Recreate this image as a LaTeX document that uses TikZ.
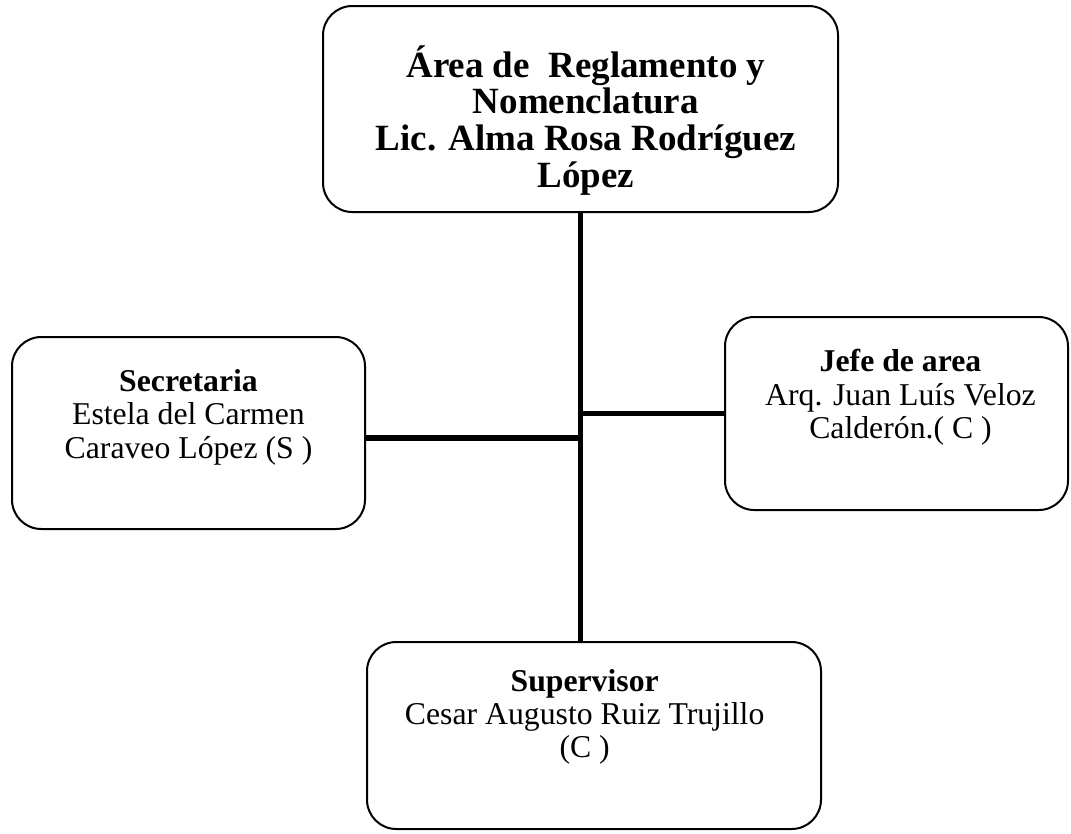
\documentclass[tikz,border=0pt]{standalone}
\usepackage{fontspec}
\setmainfont{Liberation Serif}
\usetikzlibrary{positioning}
\tikzset{x=0.75pt, y=-0.75pt,
    orgbox/.style={
        draw,
        line width=1.5pt,
        rounded corners=22pt,
        inner sep=0pt},
    orgtext/.style={
        align=center,
        inner sep=0pt,
        font=\fontsize{23.8}{25}\selectfont},
    toptext/.style={
        align=center,
        inner sep=0pt,
        font=\fontsize{27.75}{27.6}\selectfont\bfseries},
    link/.style={
        draw,
        line width=4.3pt}}

\begin{document}
\begin{tikzpicture}
        \path[fill=white] (0,0) rectangle (1071,833);
        \useasboundingbox (0,0) rectangle (1071,833);

        \node[orgbox,minimum width=386.25pt,minimum height=154.5pt] (area) at (580.5,109) {};
        \node[orgbox,minimum width=264.75pt,minimum height=144pt] (secre) at (188.5,433) {};
        \node[orgbox,minimum width=257.25pt,minimum height=144.75pt] (jefe) at (896.5,413.5) {};
        \node[orgbox,minimum width=340.5pt,minimum height=140.25pt] (super) at (594,735.5) {};

        \node[toptext,below=30pt of area.north,xshift=4pt] (areatext)
            {Área de~ Reglamento y\\Nomenclatura\\Lic. Alma Rosa Rodríguez\\López};
        \node[orgtext,below=25pt of secre.north] (secretext)
            {\textbf{Secretaria}\\Estela del Carmen\\Caraveo López (S )};
        \node[orgtext,below=25pt of jefe.north,xshift=3pt] (jefetext)
            {\textbf{Jefe de area}\\Arq. Juan Luís Veloz\\Calderón.( C )};
        \node[orgtext,below=21pt of super.north,xshift=-7pt] (supertext)
            {\textbf{Supervisor}\\Cesar Augusto Ruiz Trujillo\\(C )};

        \coordinate (tronco) at (581,438);

        \draw[link] (area.south) -- (area.south |- super.north);
        \draw[link] (secre.east |- tronco) -- (tronco);
        \draw[link] (jefe.west) -- (jefe.west -| tronco);
\end{tikzpicture}
\end{document}
